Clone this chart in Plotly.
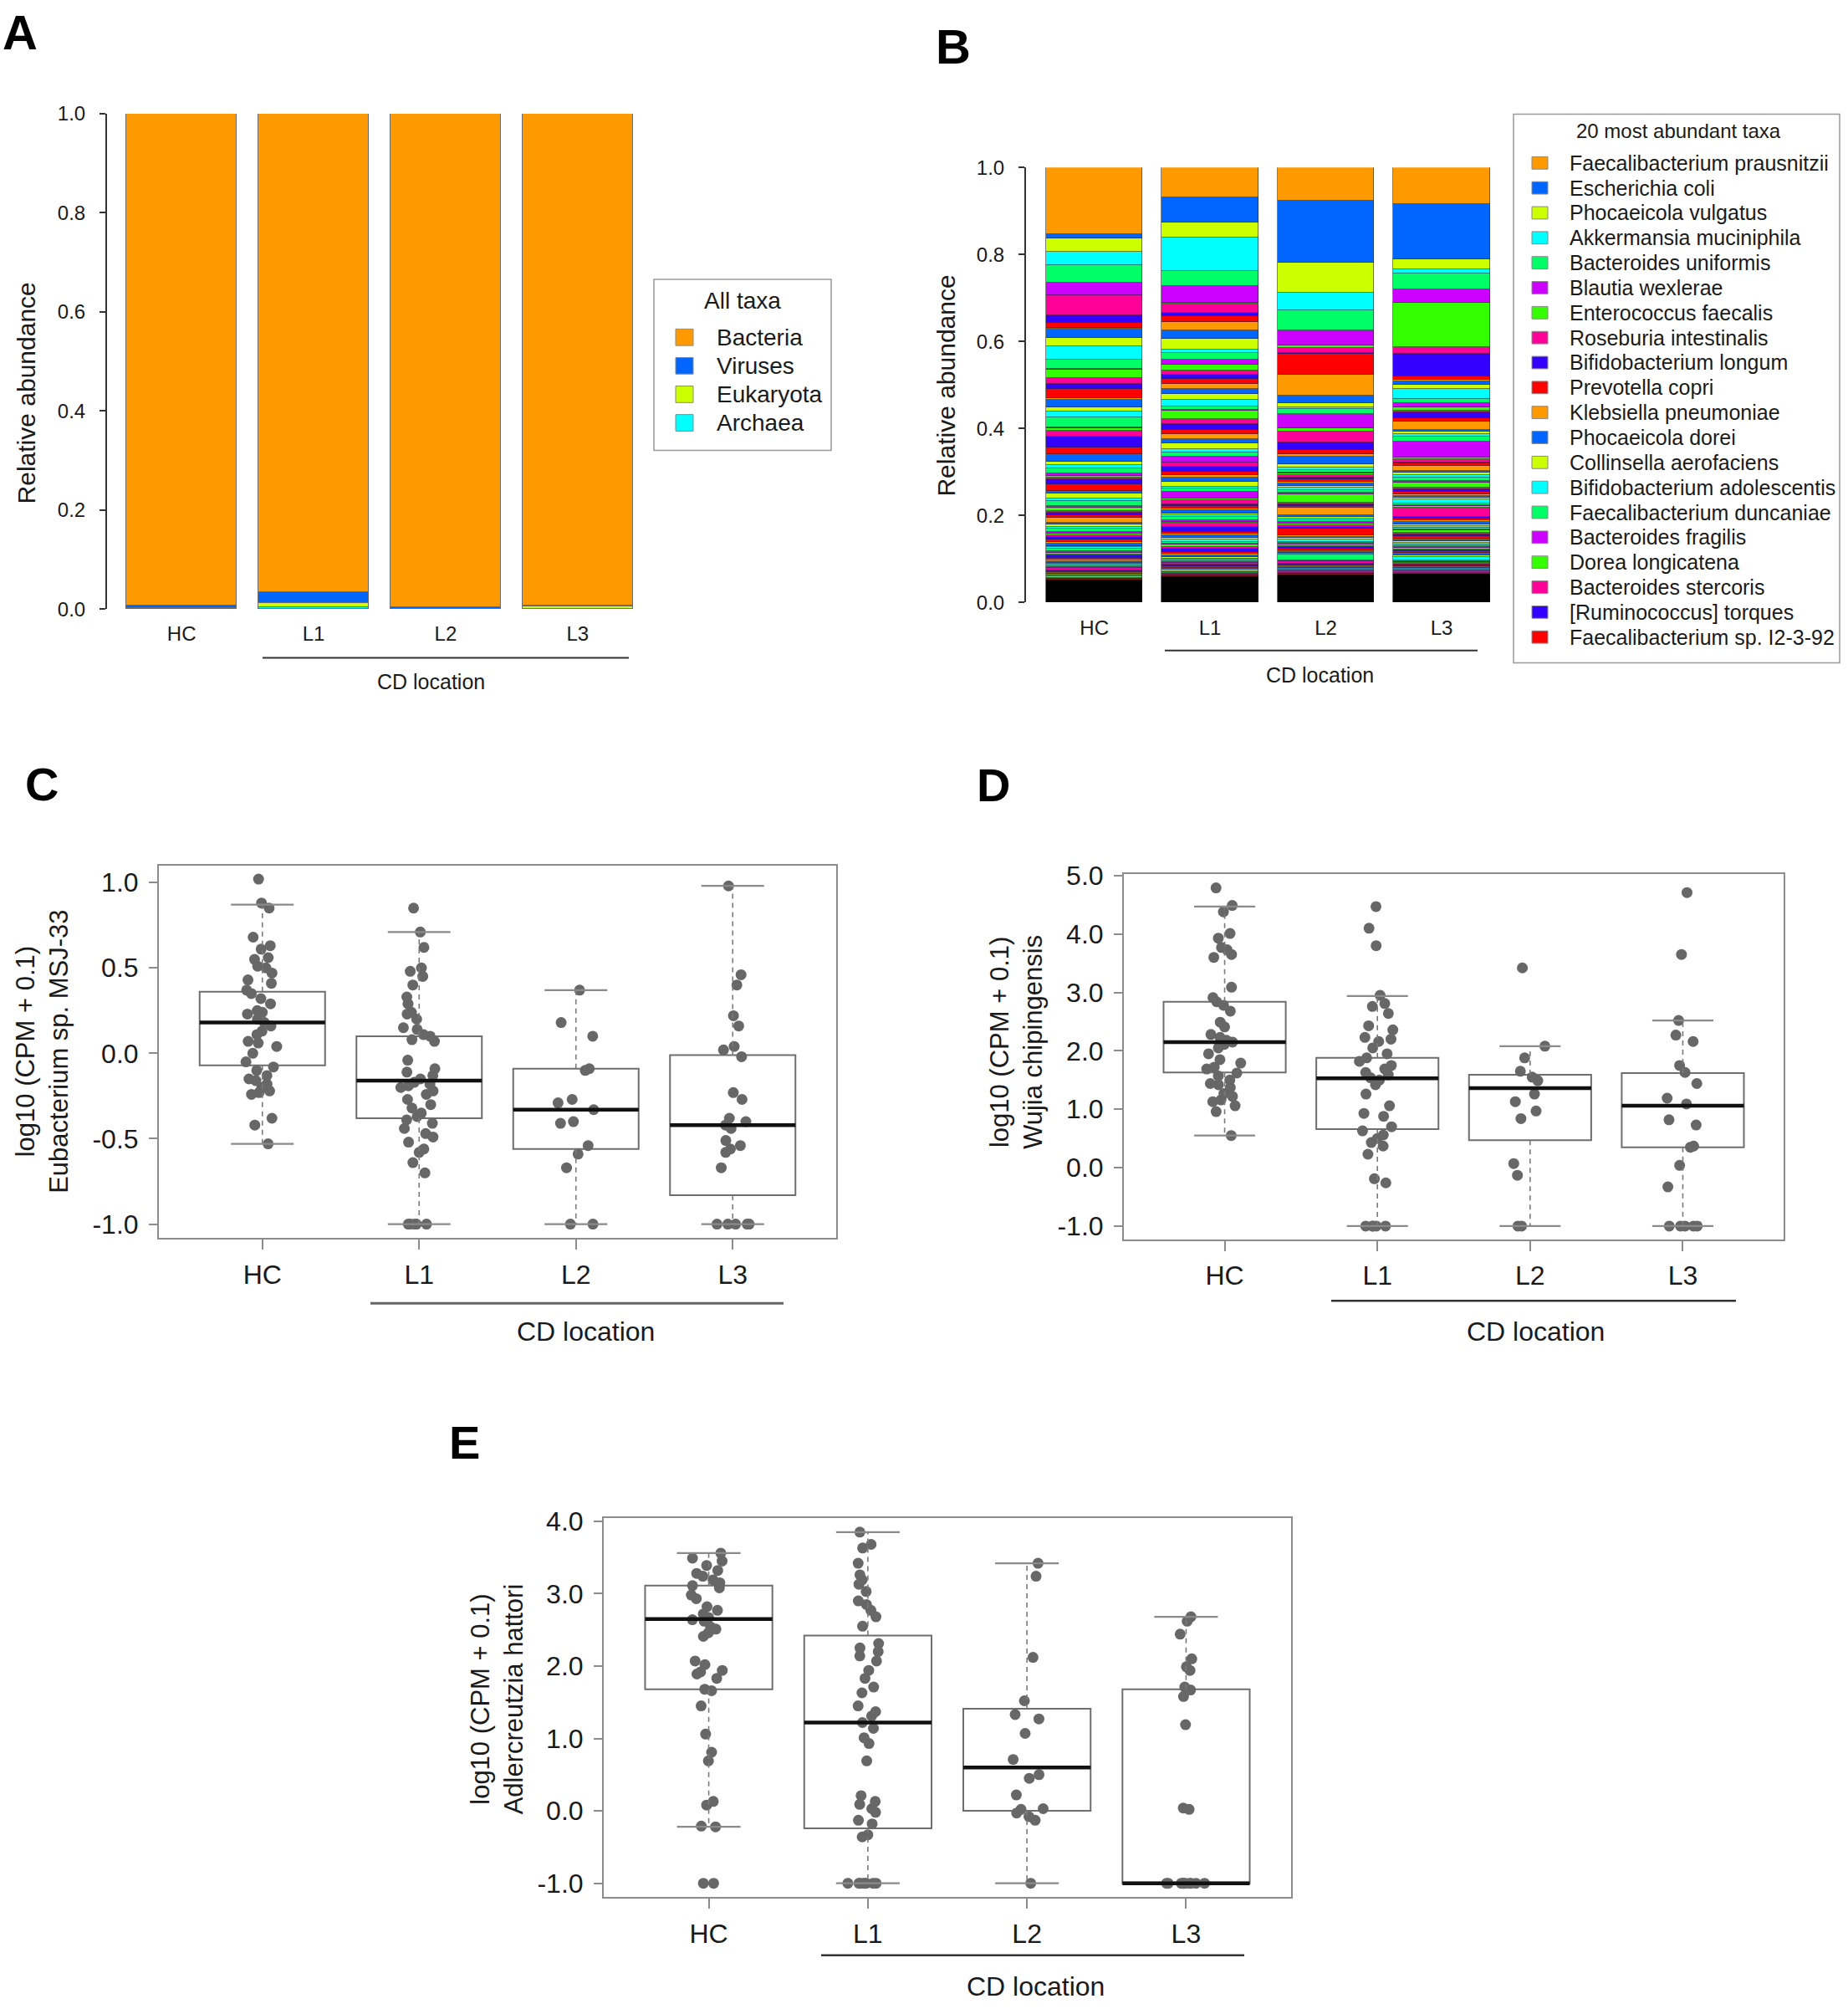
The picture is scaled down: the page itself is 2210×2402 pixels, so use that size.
import plotly.graph_objects as go

W, H = 2210, 2402
FONT = "Liberation Sans, Arial, Helvetica, sans-serif"
TXT = "#1a1a1a"

groups = ["HC", "L1", "L2", "L3"]
gpos = [1, 2, 3, 4]

# ---------------- Panel A data ----------------
kingdoms = ["Bacteria", "Viruses", "Eukaryota", "Archaea"]
kingdom_colors = ["#FF9900", "#0066FF", "#CCFF00", "#00FFFF"]
A_bacteria = [0.992, 0.965, 0.997, 0.992]
A_viruses = [0.006, 0.022, 0.002, 0.002]
A_eukaryota = [0.001, 0.009, 0.0005, 0.005]
A_archaea = [0.001, 0.004, 0.0005, 0.001]
A_ticks = [0.0, 0.2, 0.4, 0.6, 0.8, 1.0]

# ---------------- Panel B data ----------------
palette = ["#FF9900", "#0066FF", "#CCFF00", "#00FFFF", "#00FF66",
           "#CC00FF", "#33FF00", "#FF0099", "#3300FF", "#FF0000"]
B_taxa = ["Faecalibacterium prausnitzii", "Escherichia coli", "Phocaeicola vulgatus",
          "Akkermansia muciniphila", "Bacteroides uniformis", "Blautia wexlerae",
          "Enterococcus faecalis", "Roseburia intestinalis", "Bifidobacterium longum",
          "Prevotella copri", "Klebsiella pneumoniae", "Phocaeicola dorei",
          "Collinsella aerofaciens", "Bifidobacterium adolescentis",
          "Faecalibacterium duncaniae", "Bacteroides fragilis", "Dorea longicatena",
          "Bacteroides stercoris", "[Ruminococcus] torques", "Faecalibacterium sp. I2-3-92"]
# relative abundance of each taxon, listed from the top of the bar downwards
B_HC = [0.153, 0.011, 0.030, 0.030, 0.042, 0.029, 0.001, 0.044, 0.018, 0.011,
        0.003, 0.020, 0.019, 0.031, 0.021, 0.003, 0.019, 0.013, 0.011, 0.022,
        0.003, 0.017, 0.011, 0.013, 0.023, 0.002, 0.006, 0.014, 0.024, 0.015,
        0.003, 0.014, 0.009, 0.008, 0.010, 0.006, 0.004, 0.005, 0.010, 0.016,
        0.002, 0.004, 0.012, 0.006, 0.011, 0.003, 0.008, 0.004, 0.005, 0.006,
        0.012, 0.004, 0.006, 0.003, 0.008, 0.005, 0.003, 0.004, 0.005, 0.006,
        0.004, 0.005, 0.003, 0.004, 0.006, 0.003, 0.004, 0.003, 0.005, 0.004,
        0.003, 0.004, 0.003, 0.002, 0.004, 0.003, 0.002, 0.003, 0.003, 0.002,
        0.002, 0.002, 0.001, 0.002, 0.002, 0.001, 0.002, 0.001, 0.001, 0.002]
B_L1 = [0.069, 0.058, 0.034, 0.077, 0.035, 0.039, 0.001, 0.022, 0.008, 0.013,
        0.018, 0.020, 0.025, 0.008, 0.016, 0.011, 0.013, 0.009, 0.010, 0.011,
        0.013, 0.011, 0.013, 0.015, 0.009, 0.002, 0.019, 0.011, 0.013, 0.011,
        0.011, 0.009, 0.013, 0.009, 0.009, 0.013, 0.003, 0.008, 0.010, 0.009,
        0.006, 0.008, 0.012, 0.005, 0.007, 0.015, 0.004, 0.009, 0.005, 0.006,
        0.004, 0.006, 0.005, 0.004, 0.007, 0.004, 0.003, 0.008, 0.012, 0.004,
        0.004, 0.005, 0.004, 0.006, 0.004, 0.003, 0.004, 0.005, 0.008, 0.004,
        0.003, 0.003, 0.004, 0.003, 0.003, 0.004, 0.002, 0.003, 0.004, 0.003,
        0.002, 0.002, 0.003, 0.002, 0.002, 0.002, 0.001, 0.002, 0.002, 0.002]
B_L2 = [0.076, 0.143, 0.070, 0.039, 0.046, 0.036, 0.005, 0.011, 0.003, 0.047,
        0.049, 0.018, 0.009, 0.003, 0.013, 0.032, 0.008, 0.024, 0.018, 0.009,
        0.006, 0.018, 0.008, 0.004, 0.006, 0.003, 0.004, 0.005, 0.004, 0.006,
        0.004, 0.005, 0.004, 0.006, 0.005, 0.004, 0.020, 0.004, 0.003, 0.005,
        0.017, 0.004, 0.003, 0.005, 0.004, 0.003, 0.004, 0.003, 0.005, 0.014,
        0.004, 0.003, 0.004, 0.005, 0.003, 0.004, 0.003, 0.002, 0.004, 0.003,
        0.003, 0.003, 0.002, 0.003, 0.012, 0.003, 0.002, 0.003, 0.002, 0.003,
        0.002, 0.002, 0.003, 0.002, 0.002, 0.002, 0.002, 0.002, 0.001, 0.002]
B_L3 = [0.085, 0.126, 0.023, 0.011, 0.035, 0.032, 0.102, 0.014, 0.052, 0.009,
        0.003, 0.007, 0.010, 0.023, 0.010, 0.009, 0.009, 0.004, 0.013, 0.007,
        0.019, 0.004, 0.006, 0.007, 0.010, 0.037, 0.004, 0.007, 0.003, 0.005,
        0.012, 0.004, 0.005, 0.006, 0.008, 0.003, 0.012, 0.004, 0.005, 0.006,
        0.004, 0.004, 0.005, 0.008, 0.004, 0.003, 0.004, 0.020, 0.005, 0.004,
        0.004, 0.005, 0.003, 0.004, 0.004, 0.003, 0.005, 0.004, 0.004, 0.005,
        0.003, 0.004, 0.003, 0.005, 0.003, 0.004, 0.003, 0.003, 0.002, 0.004,
        0.002, 0.003, 0.003, 0.008, 0.002, 0.003, 0.002, 0.003, 0.002, 0.002,
        0.002, 0.002, 0.002, 0.002, 0.001, 0.002, 0.002, 0.002, 0.001, 0.002]

# ---------------- Panel C data ----------------
C_HC = [1.02, 0.88, 0.85, 0.68, 0.63, 0.61, 0.56, 0.55, 0.51, 0.50, 0.47, 0.43, 0.41,
        0.37, 0.35, 0.32, 0.29, 0.25, 0.24, 0.23, 0.20, 0.18, 0.16, 0.13, 0.11, 0.07,
        0.06, 0.04, 0.00, -0.05, -0.08, -0.10, -0.13, -0.15, -0.16, -0.18, -0.20,
        -0.22, -0.23, -0.24, -0.38, -0.42, -0.53]
C_L1 = [0.85, 0.71, 0.62, 0.50, 0.48, 0.45, 0.40, 0.33, 0.29, 0.24, 0.23, 0.20, 0.15,
        0.14, 0.11, 0.10, 0.08, 0.07, -0.04, -0.09, -0.11, -0.13, -0.15, -0.17, -0.18,
        -0.19, -0.20, -0.22, -0.24, -0.27, -0.30, -0.32, -0.35, -0.37, -0.39, -0.41,
        -0.44, -0.47, -0.49, -0.52, -0.56, -0.58, -0.64, -0.70, -1, -1, -1, -1, -1]
C_L2 = [0.37, 0.18, 0.10, -0.09, -0.10, -0.27, -0.29, -0.33, -0.40, -0.41, -0.54,
        -0.59, -0.67, -1, -1]
C_L3 = [0.98, 0.46, 0.40, 0.22, 0.16, 0.04, 0.02, -0.02, -0.23, -0.27, -0.38, -0.40,
        -0.42, -0.44, -0.51, -0.54, -0.56, -0.58, -0.67, -1, -1, -1, -1, -1]
C_q1 = [-0.07, -0.38, -0.56, -0.83]
C_med = [0.18, -0.16, -0.33, -0.42]
C_q3 = [0.36, 0.10, -0.09, -0.01]
C_lo = [-0.53, -1.0, -1.0, -1.0]
C_hi = [0.87, 0.71, 0.37, 0.98]
C_yticks = [-1.0, -0.5, 0.0, 0.5, 1.0]

# ---------------- Panel D data ----------------
D_HC = [4.79, 4.49, 4.38, 4.01, 3.93, 3.77, 3.73, 3.65, 3.60, 3.09, 2.91, 2.84, 2.78,
        2.68, 2.49, 2.41, 2.28, 2.23, 2.18, 2.15, 2.11, 2.05, 1.95, 1.85, 1.79, 1.72,
        1.69, 1.62, 1.57, 1.50, 1.44, 1.42, 1.37, 1.27, 1.22, 1.16, 1.13, 1.06, 0.96, 0.55]
D_L1 = [4.47, 4.10, 3.80, 2.95, 2.81, 2.76, 2.64, 2.43, 2.36, 2.23, 2.20, 2.16, 2.05,
        1.95, 1.88, 1.82, 1.75, 1.69, 1.63, 1.59, 1.54, 1.50, 1.42, 1.26, 1.06, 0.93,
        0.88, 0.70, 0.63, 0.56, 0.50, 0.43, 0.37, 0.23, -0.19, -0.26, -1, -1, -1, -1, -1]
D_L2 = [3.42, 2.08, 1.88, 1.65, 1.55, 1.49, 1.26, 1.13, 0.97, 0.84, 0.07, -0.13, -1, -1]
D_L3 = [4.71, 3.65, 2.52, 2.27, 2.16, 1.75, 1.63, 1.44, 1.19, 1.09, 0.82, 0.73, 0.37,
        0.35, 0.04, -0.33, -1, -1, -1, -1, -1]
D_q1 = [1.63, 0.66, 0.47, 0.35]
D_med = [2.15, 1.53, 1.36, 1.06]
D_q3 = [2.84, 1.88, 1.59, 1.62]
D_lo = [0.55, -1.0, -1.0, -1.0]
D_hi = [4.47, 2.94, 2.08, 2.52]
D_yticks = [-1.0, 0.0, 1.0, 2.0, 3.0, 4.0, 5.0]

# ---------------- Panel E data ----------------
E_HC = [3.56, 3.49, 3.45, 3.39, 3.32, 3.28, 3.24, 3.19, 3.15, 3.11, 3.08, 2.98, 2.93,
        2.82, 2.77, 2.72, 2.67, 2.64, 2.62, 2.54, 2.51, 2.46, 2.41, 2.07, 2.02, 1.94,
        1.92, 1.89, 1.83, 1.68, 1.66, 1.45, 1.06, 0.81, 0.69, 0.13, 0.08, -0.21, -0.22,
        -1, -1]
E_L1 = [3.85, 3.68, 3.63, 3.42, 3.26, 3.19, 3.13, 3.03, 2.90, 2.85, 2.77, 2.68, 2.55,
        2.31, 2.25, 2.20, 2.14, 2.07, 1.94, 1.83, 1.71, 1.63, 1.45, 1.37, 1.31, 1.22,
        1.14, 1.01, 0.93, 0.69, 0.21, 0.13, 0.09, 0.03, -0.02, -0.13, -0.18, -0.33,
        -0.36, -1, -1, -1, -1, -1, -1, -1, -1]
E_L2 = [3.42, 3.24, 2.12, 1.52, 1.33, 1.27, 1.07, 0.71, 0.50, 0.45, 0.22, 0.03, 0.02,
        -0.03, -0.08, -0.13, -1]
E_L3 = [2.68, 2.62, 2.44, 2.10, 1.99, 1.94, 1.71, 1.67, 1.58, 1.19, 0.04, 0.02,
        -1, -1, -1, -1, -1, -1, -1, -1, -1, -1]
E_q1 = [1.68, -0.24, 0.00, -1.0]
E_med = [2.65, 1.22, 0.60, -1.0]
E_q3 = [3.11, 2.42, 1.41, 1.68]
E_lo = [-0.22, -1.0, -1.0, -1.0]
E_hi = [3.56, 3.85, 3.42, 2.68]
E_yticks = [-1.0, 0.0, 1.0, 2.0, 3.0, 4.0]


def fx(p):
    return p / W


def fy(p):
    return 1 - p / H


fig = go.Figure()
shapes = []
annotations = []


def ann(text, x, y, size, bold=False, angle=0, xanchor="center", color=TXT):
    annotations.append(dict(
        text=f"<b>{text}</b>" if bold else text, x=fx(x), y=fy(y), xref="paper", yref="paper",
        xanchor=xanchor, yanchor="middle", showarrow=False, textangle=angle,
        font=dict(family=FONT, size=size, color=color)))


def pline(x0, x1, y, color="#333", width=2):
    shapes.append(dict(type="line", xref="paper", yref="paper", x0=fx(x0), x1=fx(x1),
                       y0=fy(y), y1=fy(y), line=dict(color=color, width=width)))


def prect(x0, y0, x1, y1, fill, line="#999", lw=1.2):
    shapes.append(dict(type="rect", xref="paper", yref="paper", x0=fx(x0), x1=fx(x1),
                       y0=fy(y0), y1=fy(y1), fillcolor=fill, line=dict(color=line, width=lw)))


# ---------------- Panel A ----------------
A_series = [A_archaea, A_eukaryota, A_viruses, A_bacteria]
A_names = kingdoms[::-1]
A_cols = kingdom_colors[::-1]
for vals, nm, col in zip(A_series, A_names, A_cols):
    fig.add_trace(go.Bar(x=gpos, y=vals, name=nm, width=0.833, showlegend=False,
                         marker=dict(color=col, line=dict(color="#6a6a6a", width=1)),
                         xaxis="x", yaxis="y"))

# ---------------- Panel B ----------------
B_bars = [B_HC, B_L1, B_L2, B_L3]
nB = max(len(b) for b in B_bars)
B_other = [max(0.0, 1 - sum(b)) for b in B_bars]
fig.add_trace(go.Bar(x=gpos, y=B_other, name="other taxa", width=0.835, showlegend=False,
                     marker=dict(color="#000000", line=dict(color="#111", width=0.6)),
                     xaxis="x2", yaxis="y2"))
for k in reversed(range(nB)):
    vals = [b[k] if k < len(b) else 0 for b in B_bars]
    nm = B_taxa[k] if k < len(B_taxa) else f"taxon {k + 1}"
    fig.add_trace(go.Bar(x=gpos, y=vals, name=nm, width=0.835, showlegend=False,
                         marker=dict(color=palette[k % 10],
                                     line=dict(color="rgba(40,40,40,0.85)", width=0.7)),
                         xaxis="x2", yaxis="y2"))


# ---------------- Box panels ----------------
def box_panel(xa, ya, data, q1, med, q3, lo, hi):
    fig.add_trace(go.Box(x=gpos, q1=q1, median=med, q3=q3, lowerfence=q1, upperfence=q3,
                         width=0.8, fillcolor="white", whiskerwidth=0,
                         line=dict(color="#6e6e6e", width=2), boxpoints=False,
                         showlegend=False, hoverinfo="skip", xaxis=xa, yaxis=ya))
    wx, wy, cx, cy, mx, my = [], [], [], [], [], []
    for i, g in enumerate(gpos):
        wx += [g, g, None, g, g, None]
        wy += [q3[i], hi[i], None, q1[i], lo[i], None]
        cx += [g - 0.2, g + 0.2, None, g - 0.2, g + 0.2, None]
        cy += [hi[i], hi[i], None, lo[i], lo[i], None]
        mx += [g - 0.4, g + 0.4, None]
        my += [med[i], med[i], None]
    fig.add_trace(go.Scatter(x=wx, y=wy, mode="lines", showlegend=False, hoverinfo="skip",
                             line=dict(color="#7a7a7a", width=1.6, dash="6px,5px"),
                             xaxis=xa, yaxis=ya))
    fig.add_trace(go.Scatter(x=cx, y=cy, mode="lines", showlegend=False, hoverinfo="skip",
                             line=dict(color="#8a8a8a", width=2.2), xaxis=xa, yaxis=ya))
    fig.add_trace(go.Scatter(x=mx, y=my, mode="lines", showlegend=False, hoverinfo="skip",
                             line=dict(color="#111111", width=4.5), xaxis=xa, yaxis=ya))
    px, py = [], []
    for g, vals in zip(gpos, data):
        px += [g] * len(vals)
        py += vals
    fig.add_trace(go.Box(x=px, y=py, boxpoints="all", jitter=0.32, pointpos=0, width=0.8,
                         fillcolor="rgba(0,0,0,0)", line=dict(width=0, color="rgba(0,0,0,0)"),
                         marker=dict(color="#676767", size=13), showlegend=False,
                         hoverinfo="y", xaxis=xa, yaxis=ya))


box_panel("x3", "y3", [C_HC, C_L1, C_L2, C_L3], C_q1, C_med, C_q3, C_lo, C_hi)
box_panel("x4", "y4", [D_HC, D_L1, D_L2, D_L3], D_q1, D_med, D_q3, D_lo, D_hi)
box_panel("x5", "y5", [E_HC, E_L1, E_L2, E_L3], E_q1, E_med, E_q3, E_lo, E_hi)


def yrange(*arrs):
    allv = [v for a in arrs for v in a]
    lo, hi = min(allv), max(allv)
    pad = 0.04 * (hi - lo)
    return [lo - pad, hi + pad]


bar_x = dict(tickvals=gpos, ticktext=groups, showline=False, ticks="", showgrid=False,
             zeroline=False, tickfont=dict(family=FONT, size=24, color=TXT))
bar_y = dict(range=[0, 1.0], tickvals=A_ticks, ticktext=[f"{t:.1f}" for t in A_ticks],
             showline=True, linecolor="#333", linewidth=2, ticks="outside", ticklen=7,
             tickwidth=2, tickcolor="#333", showgrid=False, zeroline=False,
             tickfont=dict(family=FONT, size=24, color=TXT), ticklabelstandoff=12)


def box_x(dom):
    return dict(domain=dom, range=[0.34, 4.66], tickvals=gpos, ticktext=groups,
                showline=True, mirror=True, linecolor="#8c8c8c", linewidth=2,
                ticks="outside", ticklen=12, tickwidth=2, tickcolor="#8c8c8c",
                showgrid=False, zeroline=False, ticklabelstandoff=2,
                tickfont=dict(family=FONT, size=32, color=TXT))


def box_y(dom, rng, ticks, anchor):
    return dict(domain=dom, range=rng, tickvals=ticks, ticktext=[f"{t:.1f}" for t in ticks],
                showline=True, mirror=True, linecolor="#8c8c8c", linewidth=2,
                ticks="outside", ticklen=10, tickwidth=2, tickcolor="#8c8c8c",
                showgrid=False, zeroline=False, anchor=anchor, ticklabelstandoff=6,
                tickfont=dict(family=FONT, size=32, color=TXT))


layout = dict(
    width=W, height=H, margin=dict(l=0, r=0, t=0, b=0),
    paper_bgcolor="white", plot_bgcolor="rgba(0,0,0,0)",
    barmode="stack", bargap=0, boxmode="overlay", showlegend=False,
    font=dict(family=FONT, color=TXT),
    xaxis=dict(domain=[fx(128), fx(780)], range=[0.435, 4.565], anchor="y",
               ticklabelstandoff=13, **bar_x),
    yaxis=dict(domain=[fy(721), fy(121.5)], anchor="x", **bar_y),
    xaxis2=dict(domain=[fx(1227), fx(1796)], range=[0.41, 4.52], anchor="y2",
                ticklabelstandoff=14, **bar_x),
    yaxis2=dict(domain=[fy(713), fy(186.5)], anchor="x2", **bar_y),
    xaxis3=dict(anchor="y3", **box_x([fx(190), fx(1000)])),
    yaxis3=box_y([fy(1482), fy(1031)], yrange(C_HC, C_L1, C_L2, C_L3), C_yticks, "x3"),
    xaxis4=dict(anchor="y4", **box_x([fx(1344), fx(2133)])),
    yaxis4=box_y([fy(1484), fy(1042)], yrange(D_HC, D_L1, D_L2, D_L3), D_yticks, "x4"),
    xaxis5=dict(anchor="y5", **box_x([fx(722), fx(1544)])),
    yaxis5=box_y([fy(2280), fy(1821)], yrange(E_HC, E_L1, E_L2, E_L3), E_yticks, "x5"),
)

# panel letters
ann("A", 24, 23, 58, bold=True, color="black")
ann("B", 1140, 40, 58, bold=True, color="black")
ann("C", 50, 933, 56, bold=True, color="black")
ann("D", 1188, 934, 56, bold=True, color="black")
ann("E", 555, 1729, 56, bold=True, color="black")

# axis titles
ann("Relative abundance", 31, 460, 30, angle=-90)
ann("Relative abundance", 1132, 451, 30, angle=-90)
ann("log10 (CPM + 0.1)<br>Eubacterium sp. MSJ-33", 51, 1257, 31, angle=-90)
ann("log10 (CPM + 0.1)<br>Wujia chipingensis", 1216, 1245, 31, angle=-90)
ann("log10 (CPM + 0.1)<br>Adlercreutzia hattori", 594, 2040, 31, angle=-90)

# CD location group lines
pline(314, 752, 780, "#333", 2)
ann("CD location", 515, 809, 25)
pline(1393, 1767, 771, "#333", 2)
ann("CD location", 1578, 801, 25)
pline(443, 937, 1561, "#666", 3)
ann("CD location", 700, 1595, 32)
pline(1592, 2076, 1558, "#333", 2.5)
ann("CD location", 1836, 1595, 32)
pline(982, 1488, 2350, "#333", 2.5)
ann("CD location", 1238, 2388, 32)

# legend A (All taxa)
prect(782, 322, 994, 529, "rgba(255,255,255,0)", "#9a9a9a", 1.5)
ann("All taxa", 888, 348, 28)
for i, (nm, col) in enumerate(zip(kingdoms, kingdom_colors)):
    yc = 392 + 34.5 * i
    prect(808, yc - 10, 829, yc + 10, col, "#8a8a8a", 1)
    ann(nm, 855, yc, 28, xanchor="left")

# legend B (20 most abundant taxa)
prect(1810, 122, 2200, 786, "rgba(255,255,255,0)", "#9a9a9a", 1.5)
ann("20 most abundant taxa", 2007, 142, 24)
for i, nm in enumerate(B_taxa):
    yc = 181 + 30.2 * i
    prect(1832, yc - 7.5, 1851, yc + 7.5, palette[i % 10], "#8a8a8a", 1)
    ann(nm, 1875, yc, 25, xanchor="left")

layout["shapes"] = shapes
layout["annotations"] = annotations
fig.update_layout(**layout)
fig.write_html(
    "out.html",
    config={"displayModeBar": False},
    post_script="document.body.style.margin='0';document.body.style.padding='0';"
                "document.documentElement.style.overflow='hidden';",
)
